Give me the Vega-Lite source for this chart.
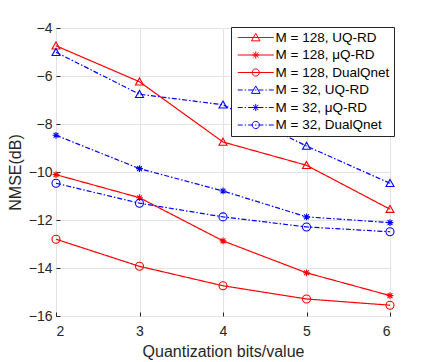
{
  "$schema": "https://vega.github.io/schema/vega-lite/v6.json",
  "width": 334,
  "height": 288,
  "autosize": {"type": "none"},
  "padding": {"left": 56, "top": 28, "right": 42, "bottom": 46},
  "background": "white",
  "config": {
    "font": "Liberation Sans",
    "view": {"stroke": "#262626", "strokeWidth": 1},
    "axis": {
      "domain": false,
      "grid": true,
      "gridColor": "#e3e3e3",
      "gridWidth": 1,
      "ticks": true,
      "tickColor": "#262626",
      "tickSize": -4,
      "labelFont": "Liberation Sans",
      "labelFontSize": 14,
      "labelColor": "#262626",
      "titleFont": "Liberation Sans",
      "titleFontSize": 16,
      "titleFontWeight": "normal",
      "titleColor": "#262626"
    }
  },
  "data": {
    "values": [
      {"series": "M = 128, UQ-RD", "bits": 2, "nmse": -4.74},
      {"series": "M = 128, UQ-RD", "bits": 3, "nmse": -6.24},
      {"series": "M = 128, UQ-RD", "bits": 4, "nmse": -8.75},
      {"series": "M = 128, UQ-RD", "bits": 5, "nmse": -9.72},
      {"series": "M = 128, UQ-RD", "bits": 6, "nmse": -11.55},
      {"series": "M = 128, μQ-RD", "bits": 2, "nmse": -10.11},
      {"series": "M = 128, μQ-RD", "bits": 3, "nmse": -11.07},
      {"series": "M = 128, μQ-RD", "bits": 4, "nmse": -12.87},
      {"series": "M = 128, μQ-RD", "bits": 5, "nmse": -14.2},
      {"series": "M = 128, μQ-RD", "bits": 6, "nmse": -15.15},
      {"series": "M = 128, DualQnet", "bits": 2, "nmse": -12.8},
      {"series": "M = 128, DualQnet", "bits": 3, "nmse": -13.93},
      {"series": "M = 128, DualQnet", "bits": 4, "nmse": -14.74},
      {"series": "M = 128, DualQnet", "bits": 5, "nmse": -15.29},
      {"series": "M = 128, DualQnet", "bits": 6, "nmse": -15.55},
      {"series": "M = 32, UQ-RD", "bits": 2, "nmse": -5.01},
      {"series": "M = 32, UQ-RD", "bits": 3, "nmse": -6.76},
      {"series": "M = 32, UQ-RD", "bits": 4, "nmse": -7.2},
      {"series": "M = 32, UQ-RD", "bits": 5, "nmse": -8.92},
      {"series": "M = 32, UQ-RD", "bits": 6, "nmse": -10.47},
      {"series": "M = 32, μQ-RD", "bits": 2, "nmse": -8.47},
      {"series": "M = 32, μQ-RD", "bits": 3, "nmse": -9.86},
      {"series": "M = 32, μQ-RD", "bits": 4, "nmse": -10.79},
      {"series": "M = 32, μQ-RD", "bits": 5, "nmse": -11.87},
      {"series": "M = 32, μQ-RD", "bits": 6, "nmse": -12.11},
      {"series": "M = 32, DualQnet", "bits": 2, "nmse": -10.47},
      {"series": "M = 32, DualQnet", "bits": 3, "nmse": -11.3},
      {"series": "M = 32, DualQnet", "bits": 4, "nmse": -11.87},
      {"series": "M = 32, DualQnet", "bits": 5, "nmse": -12.29},
      {"series": "M = 32, DualQnet", "bits": 6, "nmse": -12.49}
    ]
  },
  "encoding": {
    "x": {
      "field": "bits",
      "type": "quantitative",
      "scale": {"domain": [2, 6], "nice": false, "zero": false},
      "axis": {"values": [2, 3, 4, 5, 6], "title": "Quantization bits/value", "labelPadding": 12, "titlePadding": 5}
    },
    "y": {
      "field": "nmse",
      "type": "quantitative",
      "scale": {"domain": [-16, -4], "nice": false, "zero": false},
      "axis": {"values": [-16, -14, -12, -10, -8, -6, -4], "title": "NMSE(dB)", "labelPadding": 8, "titlePadding": 5}
    }
  },
  "resolve": {"scale": {"color": "independent", "shape": "independent", "strokeDash": "independent"}},
  "layer": [
    {
      "mark": {"type": "line", "strokeWidth": 1.2},
      "encoding": {
        "color": {
          "field": "series",
          "type": "nominal",
          "legend": null,
          "scale": {
            "domain": ["M = 128, UQ-RD", "M = 128, μQ-RD", "M = 128, DualQnet", "M = 32, UQ-RD", "M = 32, μQ-RD", "M = 32, DualQnet"],
            "range": ["#ff0000", "#ff0000", "#ff0000", "#0000ff", "#0000ff", "#0000ff"]
          }
        },
        "strokeDash": {
          "field": "series",
          "type": "nominal",
          "legend": null,
          "scale": {
            "domain": ["M = 128, UQ-RD", "M = 128, μQ-RD", "M = 128, DualQnet", "M = 32, UQ-RD", "M = 32, μQ-RD", "M = 32, DualQnet"],
            "range": [[1, 0], [1, 0], [1, 0], [5, 2, 1.5, 2], [5, 2, 1.5, 2], [5, 2, 1.5, 2]]
          }
        }
      }
    },
    {
      "mark": {"type": "point", "filled": false, "size": 64, "strokeWidth": 1.1, "opacity": 1},
      "encoding": {
        "color": {
          "field": "series",
          "type": "nominal",
          "legend": null,
          "scale": {
            "domain": ["M = 128, UQ-RD", "M = 128, μQ-RD", "M = 128, DualQnet", "M = 32, UQ-RD", "M = 32, μQ-RD", "M = 32, DualQnet"],
            "range": ["#ff0000", "#ff0000", "#ff0000", "#0000ff", "#0000ff", "#0000ff"]
          }
        },
        "shape": {
          "field": "series",
          "type": "nominal",
          "legend": null,
          "scale": {
            "domain": ["M = 128, UQ-RD", "M = 128, μQ-RD", "M = 128, DualQnet", "M = 32, UQ-RD", "M = 32, μQ-RD", "M = 32, DualQnet"],
            "range": [
              "M0,-0.95L1,0.8L-1,0.8Z",
              "M0,-0.85V0.85M-0.85,0H0.85M-0.6,-0.6L0.6,0.6M-0.6,0.6L0.6,-0.6",
              "circle",
              "M0,-0.95L1,0.8L-1,0.8Z",
              "M0,-0.85V0.85M-0.85,0H0.85M-0.6,-0.6L0.6,0.6M-0.6,0.6L0.6,-0.6",
              "circle"
            ]
          }
        }
      }
    },
    {
      "mark": {"type": "point", "filled": false, "size": 81, "strokeWidth": 1, "opacity": 0},
      "encoding": {
        "color": {
          "field": "series",
          "type": "nominal",
          "scale": {
            "domain": ["M = 128, UQ-RD", "M = 128, μQ-RD", "M = 128, DualQnet", "M = 32, UQ-RD", "M = 32, μQ-RD", "M = 32, DualQnet"],
            "range": ["#ff0000", "#ff0000", "#ff0000", "#0000ff", "#0000ff", "#0000ff"]
          },
          "legend": {
            "title": null,
            "orient": "none",
            "legendX": 175,
            "legendY": -1,
            "strokeColor": "#262626",
            "fillColor": "white",
            "padding": 4,
            "symbolSize": 81,
            "symbolOpacity": 1,
            "symbolStrokeWidth": 1,
            "symbolOffset": 14,
            "labelOffset": 13,
            "labelFont": "Liberation Sans",
            "labelFontSize": 13.5,
            "labelColor": "#000000",
            "rowPadding": 3.5,
            "clipHeight": 13
          }
        },
        "shape": {
          "field": "series",
          "type": "nominal",
          "scale": {
            "domain": ["M = 128, UQ-RD", "M = 128, μQ-RD", "M = 128, DualQnet", "M = 32, UQ-RD", "M = 32, μQ-RD", "M = 32, DualQnet"],
            "range": [
              "M-4,0H4M0,-0.9L0.95,0.75L-0.95,0.75Z",
              "M-4,0H4M0,-0.8V0.8M-0.8,0H0.8M-0.57,-0.57L0.57,0.57M-0.57,0.57L0.57,-0.57",
              "M-4,0H4M0.8,0A0.8,0.8,0,1,1,-0.8,0A0.8,0.8,0,1,1,0.8,0",
              "M-4,0H-2.9M-2.45,0H-2.15M-1.7,0H-0.6M-0.15,0H0.15M0.6,0H1.7M2.15,0H2.45M2.9,0H4M0,-0.9L0.95,0.75L-0.95,0.75Z",
              "M-4,0H-2.9M-2.45,0H-2.15M-1.7,0H-0.6M-0.15,0H0.15M0.6,0H1.7M2.15,0H2.45M2.9,0H4M0,-0.8V0.8M-0.8,0H0.8M-0.57,-0.57L0.57,0.57M-0.57,0.57L0.57,-0.57",
              "M-4,0H-2.9M-2.45,0H-2.15M-1.7,0H-0.6M-0.15,0H0.15M0.6,0H1.7M2.15,0H2.45M2.9,0H4M0.8,0A0.8,0.8,0,1,1,-0.8,0A0.8,0.8,0,1,1,0.8,0"
            ]
          },
          "legend": {
            "title": null,
            "orient": "none",
            "legendX": 175,
            "legendY": -1,
            "strokeColor": "#262626",
            "fillColor": "white",
            "padding": 4,
            "symbolSize": 81,
            "symbolOpacity": 1,
            "symbolStrokeWidth": 1,
            "symbolOffset": 14,
            "labelOffset": 13,
            "labelFont": "Liberation Sans",
            "labelFontSize": 13.5,
            "labelColor": "#000000",
            "rowPadding": 3.5,
            "clipHeight": 13
          }
        }
      }
    }
  ]
}
